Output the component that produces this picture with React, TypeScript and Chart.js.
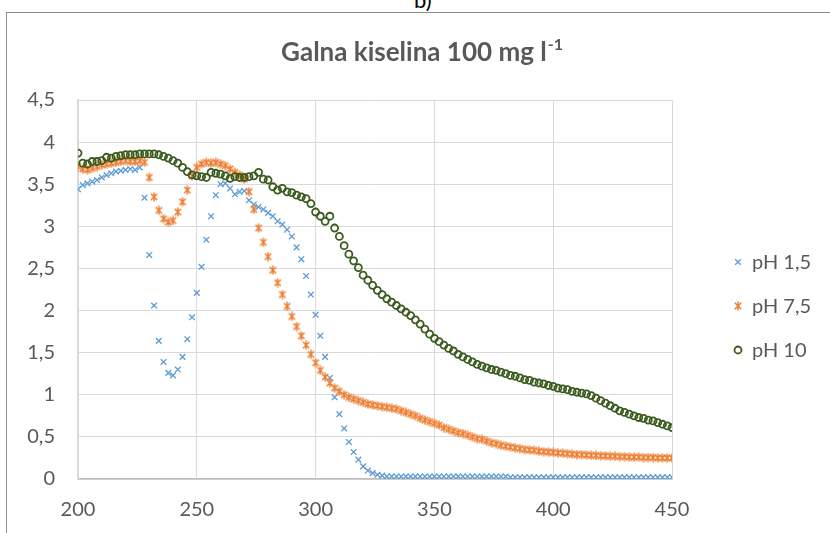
import React, { useEffect, useRef } from 'react';
import { Chart, registerables } from 'chart.js';

Chart.register(...registerables);

// Wavelength (nm)
const wavelengths = [
  200, 202, 204, 206, 208, 210, 212, 214, 216, 218,
  220, 222, 224, 226, 228, 230, 232, 234, 236, 238,
  240, 242, 244, 246, 248, 250, 252, 254, 256, 258,
  260, 262, 264, 266, 268, 270, 272, 274, 276, 278,
  280, 282, 284, 286, 288, 290, 292, 294, 296, 298,
  300, 302, 304, 306, 308, 310, 312, 314, 316, 318,
  320, 322, 324, 326, 328, 330, 332, 334, 336, 338,
  340, 342, 344, 346, 348, 350, 352, 354, 356, 358,
  360, 362, 364, 366, 368, 370, 372, 374, 376, 378,
  380, 382, 384, 386, 388, 390, 392, 394, 396, 398,
  400, 402, 404, 406, 408, 410, 412, 414, 416, 418,
  420, 422, 424, 426, 428, 430, 432, 434, 436, 438,
  440, 442, 444, 446, 448, 450,
];

// Absorbance, pH 1,5
const absPh15 = [
  3.44, 3.49, 3.51, 3.53, 3.55, 3.58, 3.61, 3.63, 3.65, 3.66,
  3.67, 3.68, 3.67, 3.70, 3.34, 2.66, 2.06, 1.64, 1.39, 1.26,
  1.23, 1.30, 1.45, 1.66, 1.92, 2.21, 2.52, 2.84, 3.12, 3.37,
  3.50, 3.51, 3.45, 3.38, 3.41, 3.42, 3.31, 3.26, 3.23, 3.20,
  3.16, 3.12, 3.06, 3.02, 2.96, 2.88, 2.75, 2.61, 2.41, 2.19,
  1.95, 1.70, 1.45, 1.20, 0.97, 0.77, 0.60, 0.44, 0.32, 0.23,
  0.15, 0.10, 0.07, 0.05, 0.04, 0.03, 0.03, 0.03, 0.03, 0.03,
  0.03, 0.03, 0.03, 0.03, 0.03, 0.03, 0.03, 0.03, 0.03, 0.03,
  0.03, 0.03, 0.03, 0.03, 0.03, 0.03, 0.03, 0.03, 0.03, 0.03,
  0.03, 0.02, 0.02, 0.02, 0.02, 0.02, 0.02, 0.02, 0.02, 0.02,
  0.02, 0.02, 0.02, 0.02, 0.02, 0.02, 0.02, 0.02, 0.02, 0.02,
  0.02, 0.02, 0.02, 0.02, 0.02, 0.02, 0.02, 0.02, 0.02, 0.02,
  0.02, 0.02, 0.02, 0.02, 0.02, 0.02,
];

// Absorbance, pH 7,5
const absPh75 = [
  3.71, 3.68, 3.67, 3.69, 3.71, 3.73, 3.74, 3.75, 3.76, 3.77,
  3.78, 3.77, 3.77, 3.78, 3.76, 3.58, 3.35, 3.19, 3.09, 3.05,
  3.07, 3.17, 3.29, 3.43, 3.60, 3.70, 3.74, 3.76, 3.75, 3.76,
  3.74, 3.72, 3.68, 3.64, 3.61, 3.56, 3.41, 3.20, 2.98, 2.81,
  2.64, 2.48, 2.33, 2.19, 2.05, 1.93, 1.81, 1.70, 1.59, 1.48,
  1.38, 1.29, 1.21, 1.14, 1.08, 1.04, 1.00, 0.97, 0.95, 0.93,
  0.91, 0.89, 0.88, 0.87, 0.86, 0.85, 0.84, 0.83, 0.81, 0.79,
  0.77, 0.75, 0.72, 0.70, 0.68, 0.66, 0.64, 0.61, 0.59, 0.57,
  0.55, 0.54, 0.52, 0.50, 0.48, 0.47, 0.45, 0.43, 0.42, 0.40,
  0.39, 0.38, 0.37, 0.36, 0.35, 0.345, 0.34, 0.33, 0.325, 0.32,
  0.315, 0.31, 0.305, 0.30, 0.295, 0.29, 0.29, 0.285, 0.28, 0.28,
  0.275, 0.275, 0.27, 0.27, 0.265, 0.265, 0.26, 0.26, 0.26, 0.255,
  0.255, 0.255, 0.25, 0.25, 0.25, 0.25,
];

// Absorbance, pH 10
const absPh10 = [
  3.87, 3.75, 3.74, 3.77, 3.77, 3.78, 3.82, 3.81, 3.83, 3.84,
  3.85, 3.85, 3.85, 3.86, 3.86, 3.86, 3.86, 3.85, 3.83, 3.81,
  3.78, 3.75, 3.70, 3.65, 3.61, 3.60, 3.59, 3.58, 3.64, 3.63,
  3.62, 3.60, 3.57, 3.59, 3.58, 3.58, 3.59, 3.60, 3.64, 3.56,
  3.55, 3.47, 3.43, 3.45, 3.41, 3.40, 3.37, 3.35, 3.33, 3.27,
  3.17, 3.12, 3.06, 3.12, 2.98, 2.88, 2.77, 2.67, 2.59, 2.51,
  2.42, 2.36, 2.30, 2.24, 2.19, 2.14, 2.10, 2.06, 2.02, 1.98,
  1.94, 1.89, 1.84, 1.78, 1.72, 1.67, 1.63, 1.59, 1.55, 1.52,
  1.48, 1.45, 1.42, 1.39, 1.36, 1.34, 1.32, 1.30, 1.29, 1.27,
  1.25, 1.23, 1.22, 1.20, 1.18, 1.17, 1.15, 1.14, 1.13, 1.11,
  1.10, 1.08, 1.07, 1.06, 1.04, 1.03, 1.02, 1.01, 0.99, 0.96,
  0.93, 0.90, 0.87, 0.84, 0.81, 0.79, 0.77, 0.75, 0.73, 0.72,
  0.70, 0.69, 0.67, 0.65, 0.63, 0.61,
];

const seriesLabels = ['pH 1,5', 'pH 7,5', 'pH 10'];
const titleMain = 'Galna kiselina 100 mg l';
const titleSup = '-1';
const panelLabel = 'b)';

const BLUE = '#5b9bd5';
const ORANGE = '#ed7d31';
const GREEN = '#3b5b1e';
const TEXT = '#595959';
const GRID = '#d9d9d9';
const FONT = 'Lato, "Open Sans", sans-serif';

// Excel-like asterisk marker: an "x" with a vertical bar through it
function makeAsterisk(color: string): HTMLCanvasElement {
  const c = document.createElement('canvas');
  c.width = 10;
  c.height = 10;
  const g = c.getContext('2d')!;
  g.strokeStyle = color;
  g.lineWidth = 1.5;
  g.beginPath();
  g.moveTo(1.8, 1.8);
  g.lineTo(8.2, 8.2);
  g.moveTo(8.2, 1.8);
  g.lineTo(1.8, 8.2);
  g.moveTo(5, 0.5);
  g.lineTo(5, 9.5);
  g.stroke();
  return c;
}

function toPoints(values: number[]) {
  return wavelengths.map((x, i) => ({ x, y: values[i] }));
}

// Title with a real superscript exponent, centred over the chart box
const supTitle = {
  id: 'supTitle',
  afterDraw(chart: any) {
    const ctx = chart.ctx as CanvasRenderingContext2D;
    const { left, right } = chart.chartArea;
    ctx.save();
    ctx.fillStyle = TEXT;
    ctx.textBaseline = 'alphabetic';
    ctx.textAlign = 'left';
    ctx.font = `bold 26px ${FONT}`;
    const wMain = ctx.measureText(titleMain).width;
    ctx.font = `bold 16px ${FONT}`;
    const wSup = ctx.measureText(titleSup).width;
    const cx = (left + right) / 2 + 47;
    const x0 = cx - (wMain + wSup + 1) / 2;
    const base = 61;
    ctx.font = `bold 26px ${FONT}`;
    ctx.fillText(titleMain, x0, base);
    ctx.font = `bold 16px ${FONT}`;
    ctx.fillText(titleSup, x0 + wMain + 1, base - 11);
    ctx.restore();
  },
};

// Legend drawn to the right of the plot area
const sideLegend = {
  id: 'sideLegend',
  afterDraw(chart: any) {
    const ctx = chart.ctx as CanvasRenderingContext2D;
    const { right } = chart.chartArea;
    const mx = right + 66;
    const tx = right + 80;
    const y0 = 262;
    const gap = 44;
    ctx.save();
    chart.data.datasets.forEach((ds: any, i: number) => {
      const y = y0 + i * gap;
      ctx.strokeStyle = ds.borderColor;
      ctx.lineWidth = ds.borderWidth;
      const style = ds.pointStyle;
      if (style === 'crossRot') {
        const o = Math.cos(Math.PI / 4) * ds.pointRadius;
        ctx.beginPath();
        ctx.moveTo(mx - o, y - o);
        ctx.lineTo(mx + o, y + o);
        ctx.moveTo(mx + o, y - o);
        ctx.lineTo(mx - o, y + o);
        ctx.stroke();
      } else if (style === 'circle') {
        ctx.beginPath();
        ctx.arc(mx, y, ds.pointRadius, 0, Math.PI * 2);
        ctx.stroke();
      } else if (style && style.width) {
        ctx.drawImage(style, mx - style.width / 2, y - style.height / 2);
      }
      ctx.fillStyle = TEXT;
      ctx.font = `20px ${FONT}`;
      ctx.textBaseline = 'middle';
      ctx.textAlign = 'left';
      ctx.fillText(ds.label, tx, y + 1);
    });
    ctx.restore();
  },
};

export default function App() {
  const canvasRef = useRef<HTMLCanvasElement | null>(null);

  useEffect(() => {
    const canvas = canvasRef.current;
    if (!canvas) return;
    const asterisk = makeAsterisk(ORANGE);

    const chart = new Chart(canvas, {
      type: 'scatter',
      data: {
        datasets: [
          {
            label: seriesLabels[0],
            data: toPoints(absPh15),
            pointStyle: 'crossRot',
            pointRadius: 4,
            borderColor: BLUE,
            backgroundColor: BLUE,
            borderWidth: 1.3,
            order: 2,
          },
          {
            label: seriesLabels[1],
            data: toPoints(absPh75),
            pointStyle: asterisk as any,
            pointRadius: 4.5,
            borderColor: ORANGE,
            backgroundColor: ORANGE,
            borderWidth: 1.5,
            order: 1,
          },
          {
            label: seriesLabels[2],
            data: toPoints(absPh10),
            pointStyle: 'circle',
            pointRadius: 3.5,
            borderColor: GREEN,
            backgroundColor: 'rgba(0,0,0,0)',
            borderWidth: 1.8,
            order: 0,
          },
        ],
      },
      options: {
        animation: false,
        responsive: false,
        maintainAspectRatio: false,
        events: [],
        layout: { padding: { left: 0, right: 158, top: 100, bottom: 0 } },
        plugins: {
          legend: { display: false },
          tooltip: { enabled: false },
          title: { display: false },
        },
        scales: {
          x: {
            type: 'linear',
            min: 200,
            max: 450,
            ticks: {
              stepSize: 50,
              color: TEXT,
              font: { family: FONT, size: 20 },
              padding: 19,
            },
            grid: { color: GRID, lineWidth: 1, drawTicks: false },
            border: { color: '#bfbfbf', width: 1.5 },
            afterFit: (scale: any) => {
              scale.height = 54;
            },
          },
          y: {
            type: 'linear',
            min: 0,
            max: 4.5,
            ticks: {
              stepSize: 0.5,
              color: TEXT,
              font: { family: FONT, size: 20 },
              padding: 23,
              callback: (v: any) => String(v).replace('.', ','),
            },
            grid: { color: GRID, lineWidth: 1, drawTicks: false },
            border: { color: GRID, width: 1.5 },
            afterFit: (scale: any) => {
              scale.width = 78;
            },
          },
        },
      },
      plugins: [supTitle, sideLegend],
    });

    return () => chart.destroy();
  }, []);

  return (
    <div
      style={{
        position: 'absolute',
        left: 0,
        top: 0,
        width: 830,
        height: 533,
        overflow: 'hidden',
        background: '#ffffff',
      }}
    >
      <span
        style={{
          position: 'absolute',
          left: 414,
          top: -11,
          fontFamily: FONT,
          fontSize: 22,
          lineHeight: '22px',
          color: '#000000',
        }}
      >
        {panelLabel}
      </span>
      <div
        style={{
          position: 'absolute',
          left: 6,
          top: 12,
          width: 840,
          height: 540,
          border: '1px solid #8c8c8c',
          boxSizing: 'border-box',
        }}
      />
      <canvas
        ref={canvasRef}
        width={830}
        height={533}
        style={{ position: 'absolute', left: 0, top: 0 }}
      />
    </div>
  );
}
